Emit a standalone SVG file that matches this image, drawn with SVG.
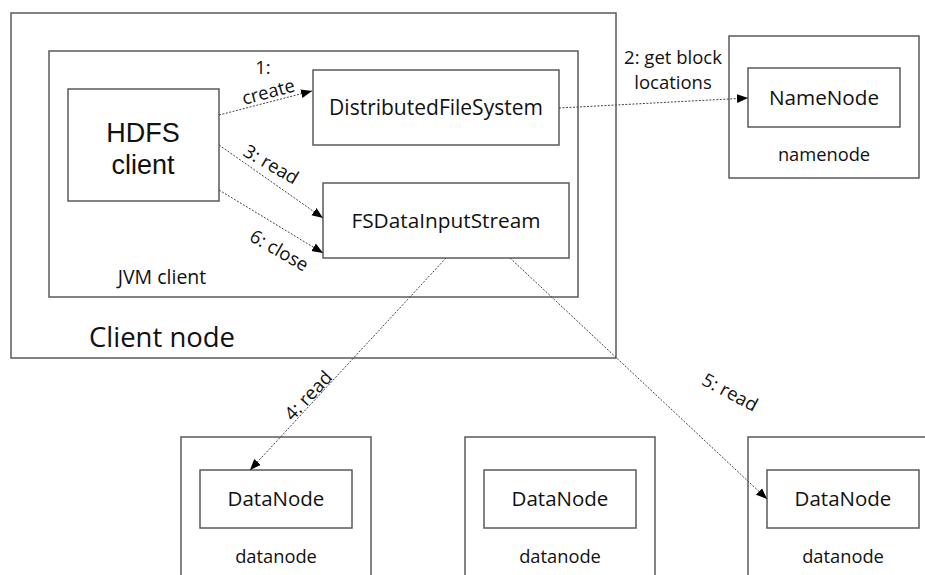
<svg xmlns="http://www.w3.org/2000/svg" width="925" height="575" viewBox="0 0 925 575">
<defs>
<style>
.box{fill:#fff;stroke:#5a5a5a;stroke-width:1.5}
.t{font-family:"Open Sans","Liberation Sans",sans-serif;fill:#111;text-anchor:middle}
.big{font-family:"Liberation Sans",sans-serif;fill:#111;text-anchor:middle}
.conn{fill:none;stroke:#444;stroke-width:1;stroke-dasharray:2,1.5}
</style>
<marker id="ah" viewBox="0 0 10 10" refX="10" refY="5" markerWidth="11" markerHeight="11" markerUnits="userSpaceOnUse" orient="auto">
<path d="M0,1 L10,5 L0,9 Z" fill="#000"/>
</marker>
</defs>
<rect width="925" height="575" fill="#fff"/>
<g id="client-node">
<rect class="box" x="11" y="13" width="605" height="345"/>
<text class="t" x="162" y="347" font-size="27.5">Client node</text>
</g>
<g id="jvm-client">
<rect class="box" x="49" y="51" width="529" height="246"/>
<text class="t" x="162" y="284" font-size="19.5">JVM client</text>
</g>
<g id="hdfs-client">
<rect class="box" x="68" y="89" width="151" height="112"/>
<text class="big" x="143" y="142" font-size="27">HDFS</text>
<text class="big" x="143" y="174" font-size="27">client</text>
</g>
<g id="distributed-fs">
<rect class="box" x="313" y="70" width="246" height="75"/>
<text class="t" x="436" y="115" font-size="21">DistributedFileSystem</text>
</g>
<g id="fsdatainputstream">
<rect class="box" x="323" y="183" width="246" height="75"/>
<text class="t" x="446" y="228" font-size="20.8">FSDataInputStream</text>
</g>
<g id="namenode">
<rect class="box" x="729" y="36" width="190" height="142"/>
<rect class="box" x="748" y="68" width="152" height="59"/>
<text class="t" x="824" y="105" font-size="20.7">NameNode</text>
<text class="t" x="824" y="161" font-size="18.3">namenode</text>
</g>
<g id="datanode-1">
<rect class="box" x="181" y="437" width="190" height="150"/>
<rect class="box" x="200" y="470" width="152" height="58"/>
<text class="t" x="276" y="506" font-size="20.5">DataNode</text>
<text class="t" x="276" y="563" font-size="18.3">datanode</text>
</g>
<g id="datanode-2">
<rect class="box" x="465" y="437" width="190" height="150"/>
<rect class="box" x="484" y="470" width="152" height="58"/>
<text class="t" x="560" y="506" font-size="20.5">DataNode</text>
<text class="t" x="560" y="563" font-size="18.3">datanode</text>
</g>
<g id="datanode-3">
<rect class="box" x="748" y="437" width="190" height="150"/>
<rect class="box" x="767" y="470" width="152" height="58"/>
<text class="t" x="843" y="506" font-size="20.5">DataNode</text>
<text class="t" x="843" y="563" font-size="18.3">datanode</text>
</g>
<g id="connectors">
<line class="conn" x1="219" y1="115" x2="312" y2="91" marker-end="url(#ah)"/>
<line class="conn" x1="559" y1="108" x2="748" y2="98" marker-end="url(#ah)"/>
<line class="conn" x1="219" y1="145" x2="323" y2="218" marker-end="url(#ah)"/>
<line class="conn" x1="219" y1="190" x2="323" y2="253" marker-end="url(#ah)"/>
<line class="conn" x1="446" y1="258" x2="250" y2="470" marker-end="url(#ah)"/>
<line class="conn" x1="510" y1="258" x2="767" y2="499" marker-end="url(#ah)"/>
<text class="t" x="263" y="74" font-size="18.5">1:</text>
<text class="t" x="0" y="0" font-size="18.5" transform="translate(270,98) rotate(-15)">create</text>
<text class="t" x="673" y="64" font-size="18.5">2: get block</text>
<text class="t" x="673" y="89" font-size="18.5">locations</text>
<text class="t" x="0" y="0" font-size="18.5" transform="translate(268,170) rotate(30)">3: read</text>
<text class="t" x="0" y="0" font-size="18.5" transform="translate(276,256) rotate(30)">6: close</text>
<text class="t" x="0" y="0" font-size="18.5" transform="translate(313,400) rotate(-47)">4: read</text>
<text class="t" x="0" y="0" font-size="18.5" transform="translate(727,398) rotate(28)">5: read</text>
</g>
</svg>
